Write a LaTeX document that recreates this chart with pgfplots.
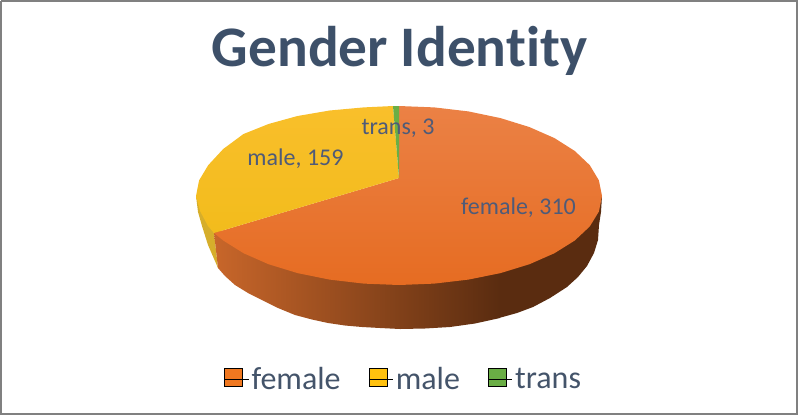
\documentclass[border=0pt]{standalone}
\usepackage{fontspec}
\setmainfont[Ligatures=NoCommon]{Carlito}
\usepackage{pgfplots}
\pgfplotsset{compat=1.18}
\definecolor{titleblue}{HTML}{3D5069}
\definecolor{labelblue}{HTML}{4F5B78}
\definecolor{legendblue}{HTML}{44546A}
\definecolor{femaleC}{HTML}{F07820}
\definecolor{femaleTop}{HTML}{EB8145}
\definecolor{femaleBot}{HTML}{E66C22}
\definecolor{maleC}{HTML}{FFC10E}
\definecolor{maleTop}{HTML}{F9BF2B}
\definecolor{maleBot}{HTML}{F2BC1C}
\definecolor{maleSide}{HTML}{D6AE2B}
\definecolor{transC}{HTML}{6AAE45}
\definecolor{sideLight}{HTML}{C8662A}
\definecolor{sideDark}{HTML}{5A2C10}
\begin{document}
\begin{tikzpicture}
\begin{axis}[
  scale only axis,
  width=598.5pt,
  height=311.25pt,
  xmin=0, xmax=798,
  ymin=0, ymax=415,
  y dir=reverse,
  hide axis,
  clip=false,
  legend columns=3,
  legend cell align=left,
  legend image code/.code={
    \fill[#1] (0pt,-5.5pt) rectangle (13.5pt,8pt);
    \path (0pt,0pt) -- (18pt,0pt);
  },
  legend style={
    at={(axis cs:404,379)}, anchor=center,
    draw=none, fill=none,
    font=\fontsize{24}{26}\selectfont,
    text=legendblue,
    /tikz/every even column/.append style={column sep=19pt},
  },
]
% frame
\addplot[forget plot, draw=black!50, line width=1.5pt] coordinates {
  (1,1) (797,1) (797,414) (1,414) (1,1)
};
% side, yellow part
\addplot[forget plot, draw=none, fill=maleSide] coordinates {
  (196,196) (198,212) (202,226) (208,245) (218,268) (214,233) (196,196)
};
% side, orange part with the light to dark run
\addplot[forget plot, draw=none, left color=sideLight, right color=sideDark] coordinates {
  (214,233) (218,268) (225,276) (235,285) (248,293) (262,300) (278,308)
  (295,315) (312,319.5) (328,323) (345,325.5) (362,327) (380,328) (400,329)
  (425,328.5) (450,327) (475,323.5) (500,318) (500,250) (214,230) (214,233)
};
\addplot[forget plot, draw=none, fill=sideDark] coordinates {
  (499,318) (517,313) (533,307) (550,298) (567,287) (578,277) (587,266)
  (594,253) (598,240) (599,225) (601,212) (602,196) (499,196) (499,318)
};
% top: female, 310
\addplot[forget plot, draw=none, top color=femaleTop, middle color=femaleC, bottom color=femaleBot] coordinates {
  (399,178) (399,106) (434.3,107.4) (468.4,111.4) (500.5,118.1) (529.5,127.1)
  (554.5,138.1) (574.8,151) (589.8,165.2) (598.9,180.4) (602,196)
  (598.9,211.5) (589.8,226.4) (574.8,240.5) (554.5,253.2) (529.5,264.2)
  (500.5,273.1) (468.4,279.6) (434.3,283.6) (399,285) (363.7,283.6)
  (329.6,279.6) (297.5,273.1) (268.5,264.2) (243.5,253.2) (223.2,240.5) (214,233)
  (399,178)
};
% top: male, 159
\addplot[forget plot, draw=none, top color=maleTop, middle color=maleC, bottom color=maleBot] coordinates {
  (399,178) (214,233) (208,226) (200,211) (196,196) (199.1,180.4) (208.2,165.2)
  (223.2,149) (243.5,134) (268.5,124) (297.5,116) (329.6,110.5) (363.7,107.4) (393,106)
  (399,178)
};
% top: trans, 3
\addplot[forget plot, draw=none, fill=transC] coordinates {
  (399,178) (393,106) (399,106) (399,178)
};
\addlegendimage{fill=femaleC}
\addlegendentry{female}
\addlegendimage{fill=maleC}
\addlegendentry{male}
\addlegendimage{fill=transC}
\addlegendentry{trans}
\node[anchor=base, text=titleblue, inner sep=0pt, font=\fontsize{43}{48}\selectfont\bfseries] at (axis cs:399.5,66) {Gender Identity};
\node[anchor=base, text=labelblue, inner sep=0pt, font=\fontsize{18}{20}\selectfont] at (axis cs:518.5,214) {female, 310};
\node[anchor=base, text=labelblue, inner sep=0pt, font=\fontsize{18}{20}\selectfont] at (axis cs:295.5,165) {male, 159};
\node[anchor=base, text=labelblue, inner sep=0pt, font=\fontsize{18}{20}\selectfont] at (axis cs:398,134) {trans, 3};
\end{axis}
\end{tikzpicture}
\end{document}
